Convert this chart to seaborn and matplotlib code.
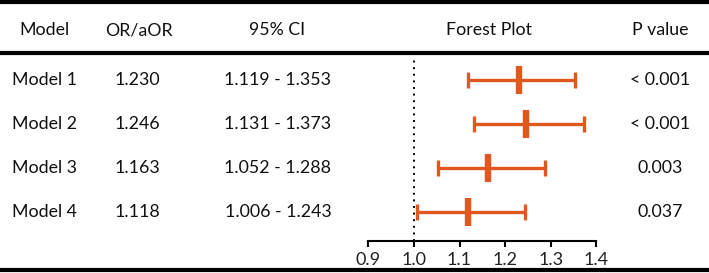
import numpy as np
import pandas as pd
import matplotlib
matplotlib.use("Agg")
import matplotlib.pyplot as plt
import matplotlib.transforms as mtransforms
from matplotlib.lines import Line2D
import seaborn as sns

# ---- data ----
models = ["Model 1", "Model 2", "Model 3", "Model 4"]
or_vals = [1.230, 1.246, 1.163, 1.118]
ci_low = [1.119, 1.131, 1.052, 1.006]
ci_high = [1.353, 1.373, 1.288, 1.243]
p_labels = ["< 0.001", "< 0.001", "0.003", "0.037"]
headers = ["Model", "OR/aOR", "95% CI", "Forest Plot", "P value"]
x_ticks = [0.9, 1.0, 1.1, 1.2, 1.3, 1.4]

df = pd.DataFrame({"model": models, "or": or_vals, "lo": ci_low, "hi": ci_high})
df["row"] = np.arange(len(df))

sns.set_theme(style="white")
plt.rcParams["font.family"] = ["Lato", "DejaVu Sans"]

W, H = 709, 273
fig = plt.figure(figsize=(W / 100, H / 100), dpi=100)

def fx(px):
    return px / W

def fy(py):
    return 1 - py / H

# forest axes
ax_left, ax_right = 368.3, 596.3
ax_top, ax_bot = 57, 241
ax = fig.add_axes([fx(ax_left), fy(ax_bot), fx(ax_right - ax_left), (ax_bot - ax_top) / H])

orange = "#E0581E"
ax.errorbar(df["or"], df["row"], xerr=[df["or"] - df["lo"], df["hi"] - df["or"]],
            fmt="none", ecolor=orange, elinewidth=2.4, capsize=5.5, capthick=2.4, zorder=3)
sns.scatterplot(data=df, x="or", y="row", marker="|", s=400, linewidth=4.6,
                color=orange, ax=ax, zorder=4, legend=False)
ax.axvline(1.0, color="black", linestyle=(0, (1, 2.4)), linewidth=1.4, zorder=1)

row0_px, spacing = 80, 44
ax.set_ylim(3 + (ax_bot - (row0_px + 3 * spacing)) / spacing, -(row0_px - ax_top) / spacing)
ax.set_xlim(0.9, 1.4)
ax.set_xticks(x_ticks)
ax.set_xticklabels([f"{t:.1f}" for t in x_ticks])
ax.set_yticks([])
ax.set_xlabel("")
ax.set_ylabel("")
for s in ["left", "right", "top"]:
    ax.spines[s].set_visible(False)
ax.spines["bottom"].set_linewidth(1.5)
ax.spines["bottom"].set_color("black")
ax.tick_params(axis="x", direction="out", length=4.5, width=1.5, color="black",
               labelsize=13, pad=3.5, bottom=True, labelcolor="#222222")
ax.patch.set_alpha(0)

# table text
trans = mtransforms.blended_transform_factory(fig.transFigure, ax.transData)
fs = 12.8
for i, row in df.iterrows():
    ax.text(fx(44.5), row["row"], row["model"], transform=trans, ha="center", va="center", fontsize=fs, color="#111111")
    ax.text(fx(137.5), row["row"], f"{row['or']:.3f}", transform=trans, ha="center", va="center", fontsize=fs, color="#111111")
    ax.text(fx(278), row["row"], f"{row['lo']:.3f} - {row['hi']:.3f}", transform=trans, ha="center", va="center", fontsize=fs, color="#111111")
    ax.text(fx(660), row["row"], p_labels[i], transform=trans, ha="center", va="center", fontsize=fs, color="#111111")

header_x = [44.5, 138.5, 277.5, 489.5, 660]
for hx, h in zip(header_x, headers):
    fig.text(fx(hx), fy(30), h, ha="center", va="center", fontsize=fs, color="#111111")

# rule lines
for py, lw in [(2, 3.0), (52.5, 3.0), (270, 3.0)]:
    fig.add_artist(Line2D([0, 1], [fy(py), fy(py)], transform=fig.transFigure, color="black", linewidth=lw))

fig.savefig("out.png", dpi=100)
